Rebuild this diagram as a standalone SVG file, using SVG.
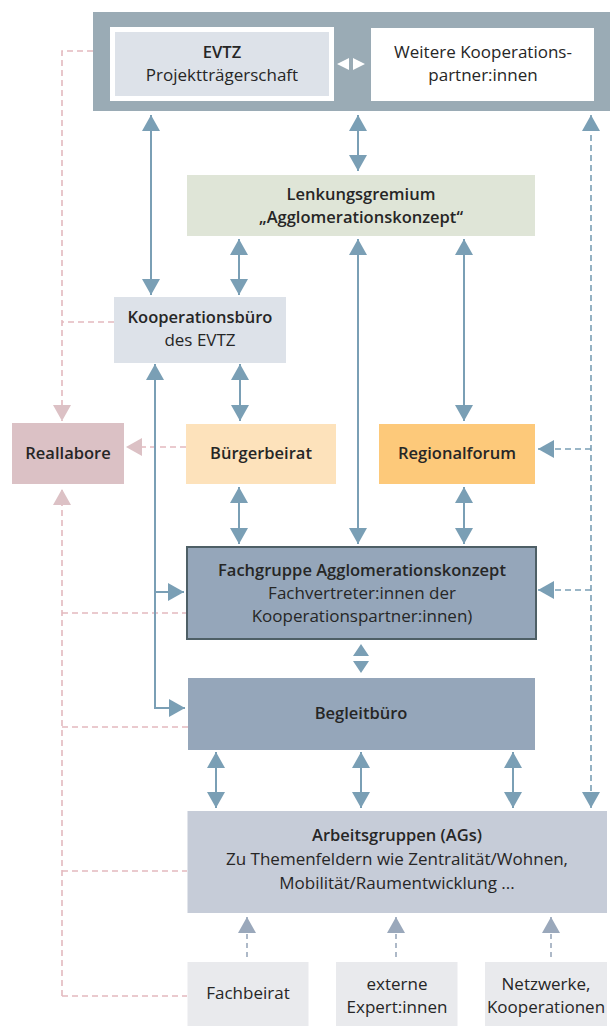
<svg xmlns="http://www.w3.org/2000/svg" width="610" height="1026" viewBox="0 0 610 1026">
<style>
text{font-family:"Open Sans","Liberation Sans",Arial,sans-serif;font-size:17px;fill:#262626;text-anchor:middle}
.b{font-weight:600;font-size:16.5px}
.c{fill:none;stroke:#7a9fb5;stroke-width:2}
.bd{fill:none;stroke:#7a9fb5;stroke-width:1.6;stroke-dasharray:6 4}
.pd{fill:none;stroke:#e3b9bf;stroke-width:1.6;stroke-dasharray:6 4}
.ld{fill:none;stroke:#9aa8bb;stroke-width:1.6;stroke-dasharray:5 4}
</style>
<defs>
<marker id="a" viewBox="0 0 16 18" markerWidth="16" markerHeight="18" markerUnits="userSpaceOnUse" refX="16" refY="9" orient="auto-start-reverse"><path d="M0,0L16,9L0,18z" fill="#7a9fb5"/></marker>
<marker id="p" viewBox="0 0 16 18" markerWidth="16" markerHeight="18" markerUnits="userSpaceOnUse" refX="16" refY="9" orient="auto-start-reverse"><path d="M0,0L16,9L0,18z" fill="#dcc1c5"/></marker>
<marker id="l" viewBox="0 0 16 18" markerWidth="16" markerHeight="18" markerUnits="userSpaceOnUse" refX="16" refY="9" orient="auto-start-reverse"><path d="M0,0L16,9L0,18z" fill="#9aa8bb"/></marker>
</defs>
<g id="connectors">
<path class="pd" d="M93,51H62V421" marker-end="url(#p)"/>
<path class="pd" d="M114,322H62"/>
<path class="pd" d="M186,447H126" marker-end="url(#p)"/>
<path class="pd" d="M62,996V489" marker-end="url(#p)"/>
<path class="pd" d="M62,613H186M62,727H188M62,871H187M62,996H187"/>
<path class="c" d="M151,115V295" marker-start="url(#a)" marker-end="url(#a)"/>
<path class="c" d="M358,115V171" marker-start="url(#a)" marker-end="url(#a)"/>
<path class="c" d="M239,239V295" marker-start="url(#a)" marker-end="url(#a)"/>
<path class="c" d="M358,239V544" marker-start="url(#a)" marker-end="url(#a)"/>
<path class="c" d="M464,239V421" marker-start="url(#a)" marker-end="url(#a)"/>
<path class="c" d="M240,364V421" marker-start="url(#a)" marker-end="url(#a)"/>
<path class="c" d="M239,487V544" marker-start="url(#a)" marker-end="url(#a)"/>
<path class="c" d="M464,487V544" marker-start="url(#a)" marker-end="url(#a)"/>
<path class="c" d="M155,364V708H185" marker-start="url(#a)" marker-end="url(#a)"/>
<path class="c" d="M155,592H184" marker-end="url(#a)"/>
<path class="c" d="M216,752V808" marker-start="url(#a)" marker-end="url(#a)"/>
<path class="c" d="M361,752V808" marker-start="url(#a)" marker-end="url(#a)"/>
<path class="c" d="M513,752V808" marker-start="url(#a)" marker-end="url(#a)"/>
<path class="bd" d="M591,115V808" marker-start="url(#a)" marker-end="url(#a)"/>
<path class="bd" d="M591,449H538" marker-end="url(#a)"/>
<path class="bd" d="M591,590H538" marker-end="url(#a)"/>
<path class="ld" d="M247,957V917" marker-end="url(#l)"/>
<path class="ld" d="M396,957V917" marker-end="url(#l)"/>
<path class="ld" d="M551,957V917" marker-end="url(#l)"/>
<path d="M353,656H369L361,644zM353,661H369L361,673z" fill="#7a9fb5"/>
</g>
<g id="top">
<rect x="93" y="12" width="517" height="99" fill="#9aabb5"/>
<path d="M337,64L349,58V70zM365,64L353,58V70z" fill="#fff"/>
</g>
<g id="evtz">
<rect x="112.5" y="29.5" width="219" height="69" fill="#dde2e9" stroke="#fff" stroke-width="5"/>
<text x="222" y="58" class="b">EVTZ</text>
<text x="222" y="81">Projektträgerschaft</text>
</g>
<g id="weitere">
<rect x="371" y="28" width="223" height="73" fill="#fff"/>
<text x="483" y="58">Weitere Kooperations-</text>
<text x="483" y="81">partner:innen</text>
</g>
<g id="lenkung">
<rect x="187" y="175" width="348" height="61" fill="#dfe5d7"/>
<text x="361" y="200" class="b">Lenkungsgremium</text>
<text x="361" y="223" class="b">„Agglomerationskonzept“</text>
</g>
<g id="koop">
<rect x="114" y="297" width="172" height="66" fill="#dde2e9"/>
<text x="200" y="323" class="b">Kooperationsbüro</text>
<text x="200" y="346">des EVTZ</text>
</g>
<g id="reallabore">
<rect x="12" y="423" width="112" height="61" fill="#dbc1c5"/>
<text x="68" y="459" class="b">Reallabore</text>
</g>
<g id="buergerbeirat">
<rect x="186" y="424" width="150" height="60" fill="#fde2bb"/>
<text x="261" y="459" class="b">Bürgerbeirat</text>
</g>
<g id="regionalforum">
<rect x="379" y="424" width="156" height="60" fill="#fdc97a"/>
<text x="457" y="459" class="b">Regionalforum</text>
</g>
<g id="fachgruppe">
<rect x="187" y="547" width="349" height="92" fill="#95a6ba" stroke="#4e5f66" stroke-width="2"/>
<text x="362" y="576" class="b">Fachgruppe Agglomerationskonzept</text>
<text x="362" y="599">Fachvertreter:innen der</text>
<text x="362" y="622">Kooperationspartner:innen)</text>
</g>
<g id="begleitbuero">
<rect x="188" y="678" width="347" height="72" fill="#95a6ba"/>
<text x="361" y="719" class="b">Begleitbüro</text>
</g>
<g id="arbeitsgruppen">
<rect x="187.5" y="811" width="419.5" height="102" fill="#c6ccd8"/>
<text x="397" y="841" class="b">Arbeitsgruppen (AGs)</text>
<text x="397" y="865">Zu Themenfeldern wie Zentralität/Wohnen,</text>
<text x="397" y="889">Mobilität/Raumentwicklung ...</text>
</g>
<g id="fachbeirat">
<rect x="187.5" y="962" width="121" height="64" fill="#e9eaed"/>
<text x="248" y="999">Fachbeirat</text>
</g>
<g id="experten">
<rect x="336" y="962" width="121.5" height="64" fill="#e9eaed"/>
<text x="397" y="990">externe</text>
<text x="397" y="1013">Expert:innen</text>
</g>
<g id="netzwerke">
<rect x="485" y="962" width="122" height="64" fill="#e9eaed"/>
<text x="546" y="990">Netzwerke,</text>
<text x="546" y="1013">Kooperationen</text>
</g>
</svg>
